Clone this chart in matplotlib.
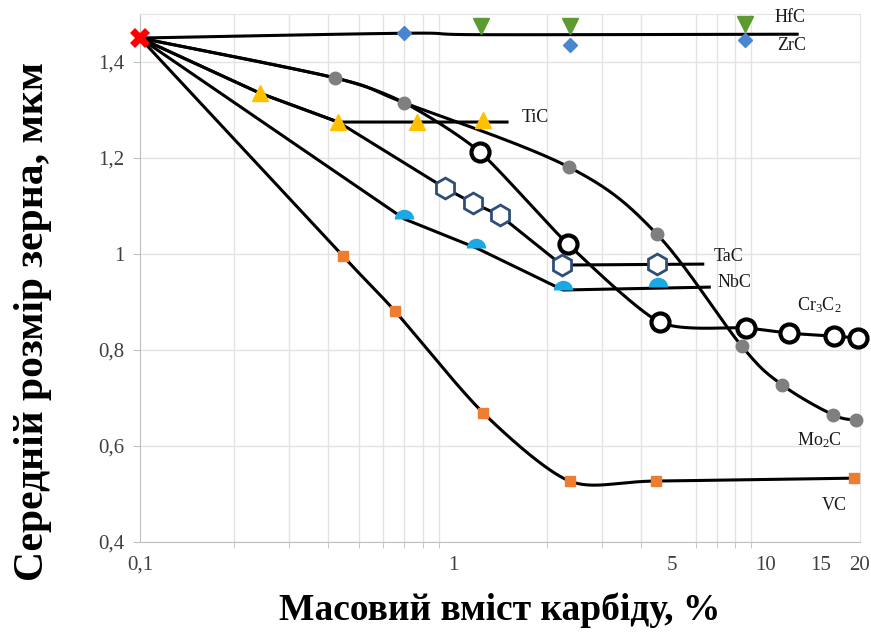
import numpy as np
import matplotlib
matplotlib.use("Agg")
from matplotlib import pyplot as plt

plt.rcParams['font.family'] = ['Liberation Serif', 'DejaVu Serif']
plt.rcParams['mathtext.fontset'] = 'custom'
plt.rcParams['mathtext.rm'] = 'Liberation Serif'

# start point (no carbide)
start_x = [0.1]
start_y = [1.45]

# HfC / ZrC
hfc_x = [1.23, 2.36, 8.57]
hfc_y = [1.475, 1.475, 1.48]
zrc_x = [0.70, 2.36, 8.57]
zrc_y = [1.460, 1.435, 1.446]
hfc_line_x = [0.1, 0.7, 1.25, 12.6]
hfc_line_y = [1.45, 1.46, 1.457, 1.458]

# Mo2C
mo2c_x = [0.42, 0.70, 2.35, 4.48, 8.38, 11.3, 16.4, 19.5]
mo2c_y = [1.367, 1.315, 1.181, 1.042, 0.808, 0.727, 0.665, 0.654]

# Cr3C2
cr3c2_x = [1.22, 2.33, 4.59, 8.63, 11.9, 16.5, 19.7]
cr3c2_y = [1.2125, 1.021, 0.858, 0.846, 0.835, 0.829, 0.825]
cr3c2_line_x = [0.1, 0.42, 0.70] + cr3c2_x
cr3c2_line_y = [1.45, 1.367, 1.315] + cr3c2_y

# TiC
tic_x = [0.242, 0.43, 0.767, 1.25]
tic_y = [1.335, 1.275, 1.275, 1.28]
tic_line_x = [0.1, 0.242, 0.43, 1.49]
tic_line_y = [1.45, 1.335, 1.275, 1.275]

# TaC
tac_x = [0.943, 1.16, 1.41, 2.23, 4.48]
tac_y = [1.1375, 1.106, 1.081, 0.977, 0.979]
tac_line_x = [0.1, 0.242, 0.43, 0.943, 1.16, 1.41, 2.23, 6.29]
tac_line_y = [1.45, 1.335, 1.275, 1.1375, 1.106, 1.081, 0.977, 0.979]

# NbC
nbc_x = [0.70, 1.19, 2.25, 4.52]
nbc_y = [1.073, 1.0125, 0.925, 0.931]
nbc_line_x = [0.1, 0.70, 1.19, 2.25, 6.6]
nbc_line_y = [1.45, 1.073, 1.0125, 0.925, 0.931]

# VC
vc_x = [0.445, 0.653, 1.25, 2.36, 4.45, 19.2]
vc_y = [0.996, 0.881, 0.669, 0.527, 0.527, 0.533]

x_ticks = [0.1, 1, 5, 10, 15, 20]
x_tick_labels = ["0,1", "1", "5", "10", "15", "20"]
y_ticks = [0.4, 0.6, 0.8, 1.0, 1.2, 1.4]
y_tick_labels = ["0,4", "0,6", "0,8", "1", "1,2", "1,4"]


def smooth(xs, ys, n=40, tension=1.0):
    # Catmull-Rom through the points, in log-x space (like Excel smoothed lines)
    pts = np.column_stack([np.log10(xs), ys])
    pts = np.vstack([pts[0], pts, pts[-1]])
    s = np.linspace(0, 1, n)
    out = []
    for i in range(1, len(pts) - 2):
        p0, p1, p2, p3 = pts[i - 1], pts[i], pts[i + 1], pts[i + 2]
        c1 = p1 + tension * (p2 - p0) / 6
        c2 = p2 - tension * (p3 - p1) / 6
        b = ((1 - s) ** 3)[:, None] * p1 + (3 * (1 - s) ** 2 * s)[:, None] * c1 \
            + (3 * (1 - s) * s ** 2)[:, None] * c2 + (s ** 3)[:, None] * p2
        out.append(b)
    c = np.vstack(out)
    return 10 ** c[:, 0], c[:, 1]


fig = plt.figure(figsize=(8.71, 6.33), dpi=100)
ax = fig.add_axes([0.1607, 0.1438, 0.8266, 0.834])
ax.set_xscale('log')
ax.set_xlim(0.1, 20)
ax.set_ylim(0.4, 1.5)

lw = 2.2
# lines
ax.plot(*smooth(hfc_line_x, hfc_line_y), color='black', lw=lw, zorder=2)
ax.plot(*smooth(start_x + mo2c_x, start_y + mo2c_y), color='black', lw=lw, zorder=2)
ax.plot(*smooth(cr3c2_line_x, cr3c2_line_y, tension=0.7), color='black', lw=lw, zorder=2)
ax.plot(tic_line_x, tic_line_y, color='black', lw=lw, zorder=2)
ax.plot(tac_line_x, tac_line_y, color='black', lw=lw, zorder=2)
ax.plot(nbc_line_x, nbc_line_y, color='black', lw=lw, zorder=2)
ax.plot(*smooth(start_x + vc_x, start_y + vc_y, tension=0.8), color='black', lw=lw, zorder=2)

# markers
ax.plot(hfc_x, hfc_y, 'v', color='#5b9b30', ms=11, ls='none', zorder=3, clip_on=False)
ax.plot(zrc_x, zrc_y, 'D', color='#4a86d0', ms=7, ls='none', zorder=3, clip_on=False)
ax.plot(mo2c_x, mo2c_y, 'o', color='#7f7f7f', ms=9, ls='none', zorder=3, clip_on=False)
ax.plot(cr3c2_x, cr3c2_y, 'o', mfc='white', mec='black', mew=3, ms=13, ls='none',
        zorder=4, clip_on=False)
ax.plot(tic_x, tic_y, '^', color='#ffc000', ms=11, ls='none', zorder=3)
ax.plot(tac_x, tac_y, 'h', mfc='white', mec='#2e4e78', mew=2, ms=15, ls='none', zorder=4)
ax.plot(nbc_x, nbc_y, 'o', color='#1ca8e3', fillstyle='top', markerfacecoloralt='none',
        mec='none', ms=14, ls='none', zorder=3)
ax.plot(vc_x, vc_y, 's', color='#ed7d31', ms=7, ls='none', zorder=3, clip_on=False)
ax.plot(start_x, start_y, 'X', color='#ff0000', ms=15, mew=0, ls='none', zorder=5,
        clip_on=False)

# curve labels
lab = dict(fontsize=13, color='#1a1a1a', va='center', ha='left', clip_on=False)
ax.text(10.7, 1.492, 'HfC', **lab)
ax.text(10.9, 1.435, 'ZrC', **lab)
ax.text(1.66, 1.285, 'TiC', **lab)
ax.text(6.82, 0.994, 'TaC', **lab)
ax.text(7.03, 0.94, 'NbC', **lab)
ax.text(12.6, 0.894, r'$\mathregular{Cr_3C_2}$', **lab)
ax.text(12.6, 0.6125, r'$\mathregular{Mo_2C}$', **lab)
ax.text(15.1, 0.477, 'VC', **lab)

# axes, grid, ticks
ax.set_xticks(x_ticks)
ax.set_xticklabels(x_tick_labels)
minor = [m * d for d in (0.1, 1) for m in range(1, 10)] + [10]
ax.set_xticks(minor, minor=True)
ax.xaxis.set_minor_formatter(matplotlib.ticker.NullFormatter())
ax.set_yticks(y_ticks)
ax.set_yticklabels(y_tick_labels)
ax.grid(False)
ax.xaxis.grid(True, which='minor', color='#e3e3e3', lw=1)
ax.yaxis.grid(True, which='major', color='#e3e3e3', lw=1)
ax.set_axisbelow(True)
ax.tick_params(axis='x', which='major', length=0, labelsize=15, labelcolor='#404040', pad=10)
ax.tick_params(axis='x', which='minor', length=4, color='#bfbfbf')
ax.tick_params(axis='y', length=5, color='#bfbfbf', labelsize=15, labelcolor='#404040', pad=6)
for side in ('left', 'bottom'):
    ax.spines[side].set_color('#bfbfbf')
for side in ('top', 'right'):
    ax.spines[side].set_color('#e3e3e3')

ax.set_xlabel('Масовий вміст карбіду, %', fontsize=27, fontweight='bold', labelpad=13)
ax.set_ylabel('Середній розмір зерна, мкм', fontsize=30, fontweight='bold')
ax.yaxis.set_label_coords(-0.122, 0.417)

fig.savefig('out.png', dpi=100)
